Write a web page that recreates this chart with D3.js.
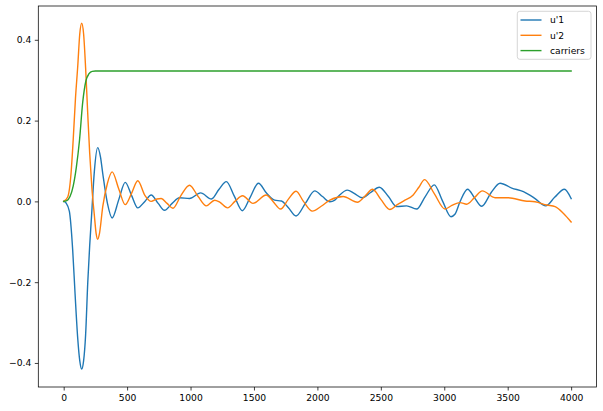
<!DOCTYPE html>
<html><head><meta charset="utf-8">
<script src="https://cdn.jsdelivr.net/npm/d3@7"></script>
<style>body{margin:0;background:#fff}svg text{font-family:"DejaVu Sans",sans-serif}</style>
</head><body><svg id="c" width="603" height="411"></svg>
<script>
const seriesNames = ["u'1", "u'2", "carriers"];
const seriesColors = ["#1f77b4", "#ff7f0e", "#2ca02c"];
const xTicks = [0, 500, 1000, 1500, 2000, 2500, 3000, 3500, 4000];
const yTicks = [-0.4, -0.2, 0.0, 0.2, 0.4];

const u1T = [0,19,45,71,90,111,127,142,157,173,190,205,220,242,268,290,308,345,382,435,485,535,584,640,690,745,795,855,913,992,1079,1165,1225,1282,1345,1408,1470,1535,1600,1663,1716,1770,1832,1905,1979,2040,2098,2137,2170,2236,2290,2352,2420,2488,2560,2624,2703,2782,2850,2921,2985,3053,3084,3124,3184,3240,3295,3370,3440,3532,3624,3716,3800,3870,3947,4000];
const u1V = [0,-0.004,-0.025,-0.12,-0.23,-0.34,-0.395,-0.415,-0.395,-0.33,-0.2,-0.11,-0.035,0.075,0.133,0.11,0.069,-0.005,-0.041,0.005,0.047,0.015,-0.016,0.0,0.016,-0.005,-0.022,-0.005,0.009,0.007,0.021,0.006,0.03,0.049,0.013,-0.023,0.01,0.045,0.02,0.003,0.001,-0.015,-0.036,-0.005,0.026,0.012,-0.001,0.003,0.014,0.028,0.02,0.009,0.022,0.035,0.012,-0.013,-0.011,-0.019,0.012,0.041,0.002,-0.038,-0.032,-0.001,0.030,0.008,-0.012,0.022,0.045,0.033,0.024,0.007,-0.011,0.01,0.030,0.007];

const u2T = [0,32,58,75,93,111,127,142,157,173,190,205,222,242,256,268,282,308,345,382,435,485,535,584,640,690,735,769,815,861,925,992,1060,1124,1190,1230,1292,1350,1410,1492,1597,1650,1710,1770,1832,1890,1960,2030,2098,2203,2316,2372,2435,2500,2571,2630,2690,2755,2800,2845,2920,3006,3060,3124,3177,3240,3300,3400,3505,3637,3716,3808,3874,3940,4000];
const u2V = [0,0.011,0.069,0.152,0.255,0.335,0.415,0.441,0.415,0.33,0.215,0.12,0.035,-0.035,-0.08,-0.094,-0.08,-0.013,0.045,0.073,0.03,-0.008,0.02,0.051,0.015,0.0,0.006,0.007,-0.005,-0.017,0.015,0.040,0.012,-0.011,0.003,-0.002,-0.016,0.0,0.014,-0.005,0.016,0.0,-0.019,0.005,0.025,0.0,-0.024,-0.012,0.003,0.012,-0.002,0.012,0.030,0.005,-0.020,-0.008,0.003,0.016,0.035,0.054,0.02,-0.019,-0.01,-0.003,-0.007,0.01,0.026,0.009,0.009,0.001,-0.001,-0.009,-0.013,-0.030,-0.051];

const carT = [0,25,50,75,100,125,150,175,200,225,250,4000];
const carV = [0,0.002,0.012,0.038,0.085,0.152,0.245,0.298,0.316,0.322,0.3227,0.3227];

const svg = d3.select("#c");
const L = 38.3, R = 596.5, T = 6, B = 387;
const x = d3.scaleLinear().domain([-200, 4200]).range([L, R]);
const y = d3.scaleLinear().domain([-0.4595, 0.4837]).range([B, T]);

const series = [
  u1T.map((t,i)=>[t,u1V[i]]),
  u2T.map((t,i)=>[t,u2V[i]]),
  carT.map((t,i)=>[t,carV[i]])
];
const line = d3.line().x(d=>x(d[0])).y(d=>y(d[1])).curve(d3.curveMonotoneX);

svg.append("defs").append("clipPath").attr("id","clip").append("rect")
  .attr("x",L).attr("y",T).attr("width",R-L).attr("height",B-T);

series.forEach((s,i)=>{
  svg.append("path").attr("d",line(s)).attr("fill","none")
    .attr("stroke",seriesColors[i]).attr("stroke-width",1.4)
    .attr("stroke-linejoin","round").attr("stroke-linecap","square")
    .attr("clip-path","url(#clip)");
});

const fs = "9.2px";
const xAxis = svg.append("g").attr("transform",`translate(0,${B})`)
  .call(d3.axisBottom(x).tickValues(xTicks).tickFormat(d3.format("d")).tickSize(3.5).tickPadding(3.5));
const yAxis = svg.append("g").attr("transform",`translate(${L},0)`)
  .call(d3.axisLeft(y).tickValues(yTicks).tickFormat(d3.format(".1f")).tickSize(3.5).tickPadding(3.5));
[xAxis,yAxis].forEach(a=>{
  a.select(".domain").remove();
  a.selectAll("line").attr("stroke","#000").attr("stroke-width",0.75);
  a.selectAll("text").attr("fill","#000").style("font-size",fs).style("font-family","DejaVu Sans");
});

svg.append("rect").attr("x",L).attr("y",T).attr("width",R-L).attr("height",B-T)
  .attr("fill","none").attr("stroke","#000").attr("stroke-width",0.75);

// legend
const lg = svg.append("g");
lg.append("rect").attr("x",517.3).attr("y",11.3).attr("width",73.7).attr("height",48)
  .attr("rx",2.5).attr("fill","#fff").attr("fill-opacity",0.8).attr("stroke","#cccccc").attr("stroke-width",0.8);
seriesNames.forEach((n,i)=>{
  const yy = 20 + i*15.3;
  lg.append("line").attr("x1",520.5).attr("x2",541.5).attr("y1",yy).attr("y2",yy)
    .attr("stroke",seriesColors[i]).attr("stroke-width",1.4);
  lg.append("text").attr("x",550).attr("y",yy).attr("dy","0.35em").text(n)
    .style("font-size",fs).attr("fill","#000");
});
</script></body></html>
